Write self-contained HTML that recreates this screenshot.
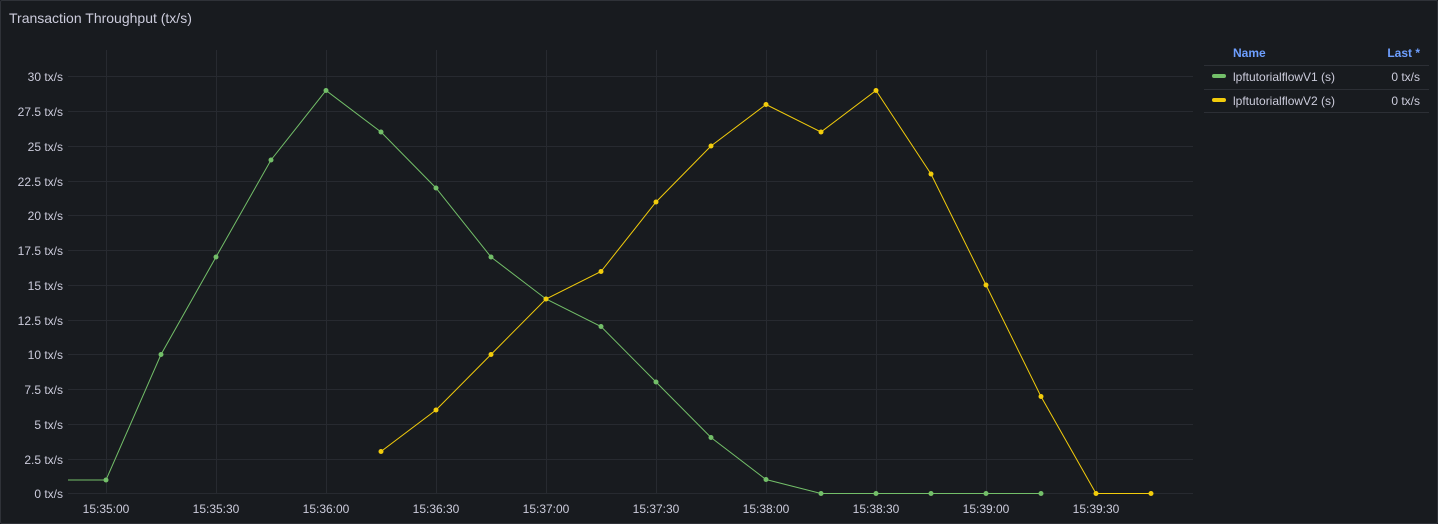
<!DOCTYPE html>
<html><head><style>
body{margin:0;background:#111217;}
.p{position:absolute;left:0;top:0;width:1436px;height:522px;background:#181b1f;border:1px solid #2f3238;border-radius:2px;font-family:"Liberation Sans",sans-serif;}
</style></head><body>
<div class="p"></div>
<svg width="1438" height="524" style="position:absolute;left:0;top:0" font-family="Liberation Sans, sans-serif">
<text x="9" y="23" fill="#ccccdc" font-size="14">Transaction Throughput (tx/s)</text>
<g stroke="#272a30" stroke-width="1">
<line x1="68" x2="1193" y1="76.5" y2="76.5"/><line x1="68" x2="1193" y1="111.5" y2="111.5"/><line x1="68" x2="1193" y1="146.5" y2="146.5"/><line x1="68" x2="1193" y1="181.5" y2="181.5"/><line x1="68" x2="1193" y1="215.5" y2="215.5"/><line x1="68" x2="1193" y1="250.5" y2="250.5"/><line x1="68" x2="1193" y1="285.5" y2="285.5"/><line x1="68" x2="1193" y1="320.5" y2="320.5"/><line x1="68" x2="1193" y1="354.5" y2="354.5"/><line x1="68" x2="1193" y1="389.5" y2="389.5"/><line x1="68" x2="1193" y1="424.5" y2="424.5"/><line x1="68" x2="1193" y1="459.5" y2="459.5"/><line x1="68" x2="1193" y1="493.5" y2="493.5"/>
<line x1="106.5" x2="106.5" y1="50" y2="494"/><line x1="216.5" x2="216.5" y1="50" y2="494"/><line x1="326.5" x2="326.5" y1="50" y2="494"/><line x1="436.5" x2="436.5" y1="50" y2="494"/><line x1="546.5" x2="546.5" y1="50" y2="494"/><line x1="656.5" x2="656.5" y1="50" y2="494"/><line x1="766.5" x2="766.5" y1="50" y2="494"/><line x1="876.5" x2="876.5" y1="50" y2="494"/><line x1="986.5" x2="986.5" y1="50" y2="494"/><line x1="1096.5" x2="1096.5" y1="50" y2="494"/>
</g>
<g fill="#ccccdc" font-size="12" text-anchor="end">
<text x="63" y="81">30 tx/s</text><text x="63" y="116">27.5 tx/s</text><text x="63" y="151">25 tx/s</text><text x="63" y="186">22.5 tx/s</text><text x="63" y="220">20 tx/s</text><text x="63" y="255">17.5 tx/s</text><text x="63" y="290">15 tx/s</text><text x="63" y="325">12.5 tx/s</text><text x="63" y="359">10 tx/s</text><text x="63" y="394">7.5 tx/s</text><text x="63" y="429">5 tx/s</text><text x="63" y="464">2.5 tx/s</text><text x="63" y="498">0 tx/s</text>
</g>
<g fill="#ccccdc" font-size="12" text-anchor="middle">
<text x="106" y="513">15:35:00</text><text x="216" y="513">15:35:30</text><text x="326" y="513">15:36:00</text><text x="436" y="513">15:36:30</text><text x="546" y="513">15:37:00</text><text x="656" y="513">15:37:30</text><text x="766" y="513">15:38:00</text><text x="876" y="513">15:38:30</text><text x="986" y="513">15:39:00</text><text x="1096" y="513">15:39:30</text>
</g>
<polyline fill="none" stroke="#73bf69" stroke-width="1" points="68,480 106,480 161,354.5 216,257 271,160 326,90.5 381,132 436,188 491,257 546,299 601,326.5 656,382 711,437.5 766,479.5 821,493.5 876,493.5 931,493.5 986,493.5 1041,493.5"/>
<g fill="#73bf69"><circle cx="106" cy="480" r="2.5"/><circle cx="161" cy="354.5" r="2.5"/><circle cx="216" cy="257" r="2.5"/><circle cx="271" cy="160" r="2.5"/><circle cx="326" cy="90.5" r="2.5"/><circle cx="381" cy="132" r="2.5"/><circle cx="436" cy="188" r="2.5"/><circle cx="491" cy="257" r="2.5"/><circle cx="546" cy="299" r="2.5"/><circle cx="601" cy="326.5" r="2.5"/><circle cx="656" cy="382" r="2.5"/><circle cx="711" cy="437.5" r="2.5"/><circle cx="766" cy="479.5" r="2.5"/><circle cx="821" cy="493.5" r="2.5"/><circle cx="876" cy="493.5" r="2.5"/><circle cx="931" cy="493.5" r="2.5"/><circle cx="986" cy="493.5" r="2.5"/><circle cx="1041" cy="493.5" r="2.5"/></g>
<polyline fill="none" stroke="#f2cc0c" stroke-width="1" points="381,451.5 436,410 491,354.5 546,299 601,271.5 656,202 711,146 766,104.5 821,132 876,90.5 931,174 986,285 1041,396.5 1096,493.5 1151,493.5"/>
<g fill="#f2cc0c"><circle cx="381" cy="451.5" r="2.5"/><circle cx="436" cy="410" r="2.5"/><circle cx="491" cy="354.5" r="2.5"/><circle cx="546" cy="299" r="2.5"/><circle cx="601" cy="271.5" r="2.5"/><circle cx="656" cy="202" r="2.5"/><circle cx="711" cy="146" r="2.5"/><circle cx="766" cy="104.5" r="2.5"/><circle cx="821" cy="132" r="2.5"/><circle cx="876" cy="90.5" r="2.5"/><circle cx="931" cy="174" r="2.5"/><circle cx="986" cy="285" r="2.5"/><circle cx="1041" cy="396.5" r="2.5"/><circle cx="1096" cy="493.5" r="2.5"/><circle cx="1151" cy="493.5" r="2.5"/></g>
<g font-size="12">
<text x="1233" y="57" fill="#6e9fff" font-weight="600">Name</text><text x="1420" y="57" fill="#6e9fff" font-weight="600" text-anchor="end">Last *</text>
<line x1="1204" x2="1429" y1="65.5" y2="65.5" stroke="#2c2f35"/>
<rect x="1212" y="74" width="14" height="4" rx="2" fill="#73bf69"/>
<text x="1233" y="81" fill="#ccccdc">lpftutorialflowV1 (s)</text><text x="1420" y="81" fill="#ccccdc" text-anchor="end">0 tx/s</text>
<line x1="1204" x2="1429" y1="89.5" y2="89.5" stroke="#2c2f35"/>
<rect x="1212" y="98" width="14" height="4" rx="2" fill="#f2cc0c"/>
<text x="1233" y="105" fill="#ccccdc">lpftutorialflowV2 (s)</text><text x="1420" y="105" fill="#ccccdc" text-anchor="end">0 tx/s</text>
<line x1="1204" x2="1429" y1="112.5" y2="112.5" stroke="#2c2f35"/>
</g>
</svg>
</body></html>
